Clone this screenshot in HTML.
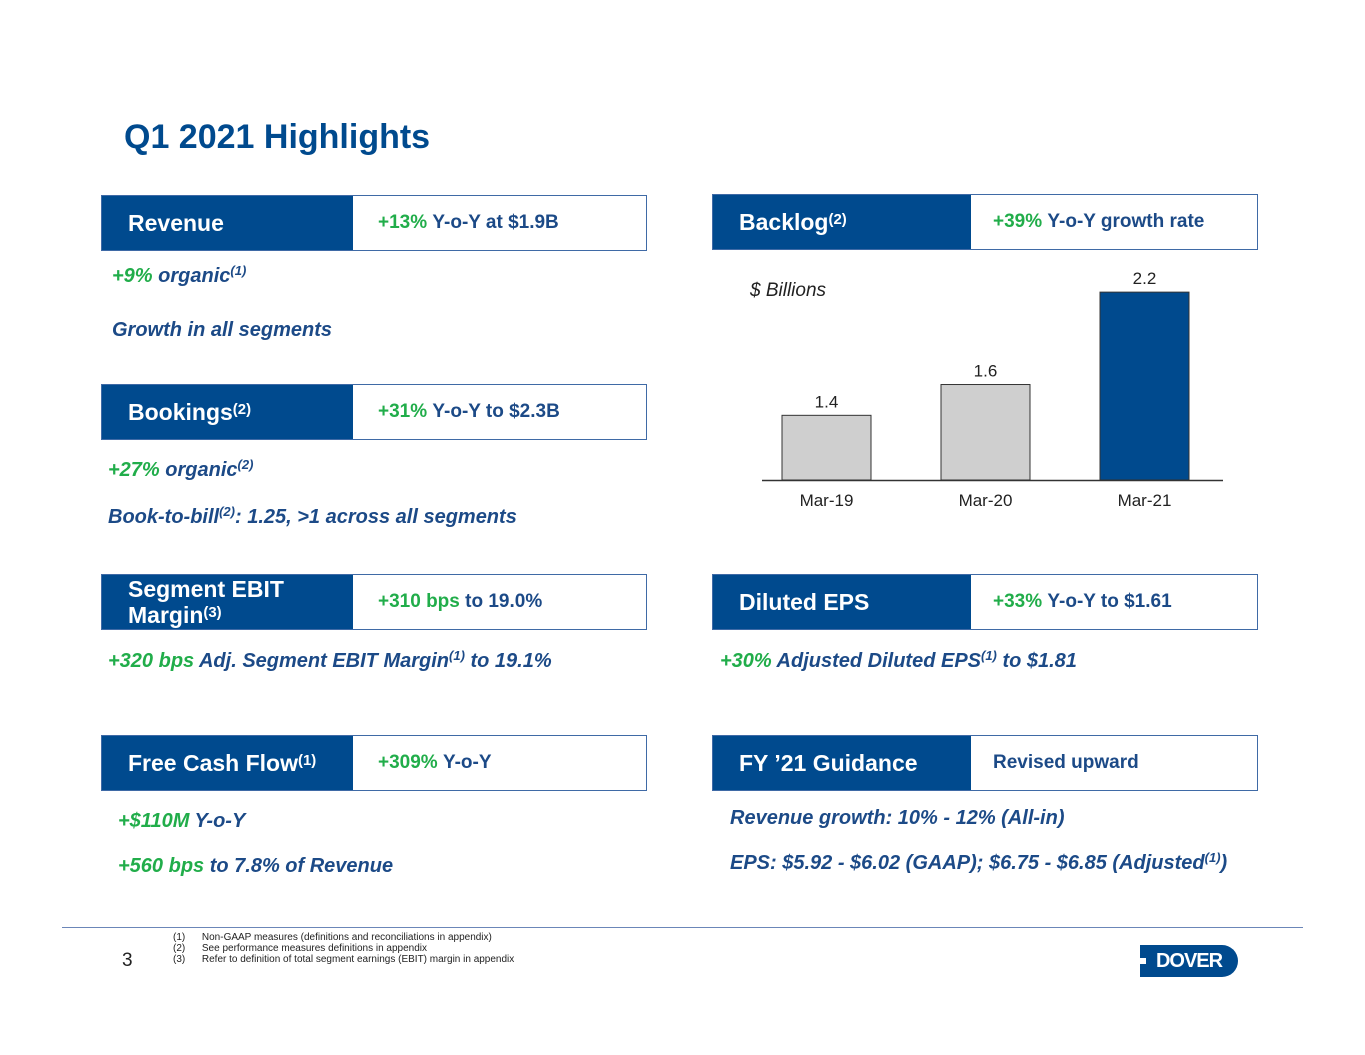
<!DOCTYPE html>
<html><head><meta charset="utf-8"><style>
body{margin:0;width:1365px;height:1055px;background:#fff;position:relative;font-family:"Liberation Sans",Arial,sans-serif;overflow:hidden}
.a{position:absolute}
.hdr{position:absolute;height:56px;border:1px solid #3f6aa6;box-sizing:border-box;background:#fff}
.hdr .l{position:absolute;left:0;top:0;bottom:0;width:251px;background:#004a8e;color:#fff;font-weight:bold;font-size:23px;display:flex;align-items:center;padding-left:26px;box-sizing:border-box;line-height:26px}
.hdr .r{position:absolute;left:276px;top:0;bottom:0;display:flex;align-items:center;font-weight:bold;font-size:19px;color:#1c4a87}
.g{color:#21ad4a}
.t{position:absolute;font-weight:bold;font-style:italic;font-size:20px;color:#1c4a87;white-space:nowrap}
sup{font-size:0.65em;vertical-align:top;position:relative;top:-2px}
</style></head><body>
<div class="a" style="left:124px;top:118px;font-size:34px;font-weight:bold;color:#004a8e">Q1 2021 Highlights</div>

<div class="hdr" style="left:101px;top:195px;width:546px"><div class="l">Revenue</div><div class="r"><span class="g">+13%</span>&nbsp;Y-o-Y at $1.9B</div></div>
<div class="t" style="left:112px;top:265px"><span class="g">+9%</span> organic<sup>(1)</sup></div>
<div class="t" style="left:112px;top:319px">Growth in all segments</div>

<div class="hdr" style="left:101px;top:384px;width:546px"><div class="l">Bookings<sup>(2)</sup></div><div class="r"><span class="g">+31%</span>&nbsp;Y-o-Y to $2.3B</div></div>
<div class="t" style="left:108px;top:459px"><span class="g">+27%</span> organic<sup>(2)</sup></div>
<div class="t" style="left:108px;top:506px">Book-to-bill<sup>(2)</sup>: 1.25, &gt;1 across all segments</div>

<div class="hdr" style="left:101px;top:574px;width:546px"><div class="l"><div>Segment EBIT<br>Margin<sup>(3)</sup></div></div><div class="r"><span class="g">+310 bps</span>&nbsp;to 19.0%</div></div>
<div class="t" style="left:108px;top:650px"><span class="g">+320 bps</span> Adj. Segment EBIT Margin<sup>(1)</sup> to 19.1%</div>

<div class="hdr" style="left:101px;top:735px;width:546px"><div class="l">Free Cash Flow<sup>(1)</sup></div><div class="r"><span class="g">+309%</span>&nbsp;Y-o-Y</div></div>
<div class="t" style="left:118px;top:810px"><span class="g">+$110M</span> Y-o-Y</div>
<div class="t" style="left:118px;top:855px"><span class="g">+560 bps</span> to 7.8% of Revenue</div>

<div class="hdr" style="left:712px;top:194px;width:546px"><div class="l" style="width:258px">Backlog<sup>(2)</sup></div><div class="r" style="left:280px"><span class="g">+39%</span>&nbsp;Y-o-Y growth rate</div></div>

<svg class="a" style="left:0;top:0" width="1365" height="1055">
<text x="750" y="296" font-size="19" font-style="italic" fill="#222" font-family="Liberation Sans,sans-serif">$ Billions</text>
<g id="bars"></g>
<line x1="762" x2="1223" y1="480.5" y2="480.5" stroke="#333" stroke-width="1.5"/>
</svg>
<script>
const categories=["Mar-19","Mar-20","Mar-21"];
const values=[1.4,1.6,2.2];
const labels=["1.4","1.6","2.2"];
const fills=["#cfcfcf","#cfcfcf","#004a8e"];
const baseY=480,yMin=0.98,pxPer=154;
function yScale(v){return baseY-(v-yMin)*pxPer;}
function xScale(i){return 782+i*159;}
const g=document.getElementById('bars');const ns="http://www.w3.org/2000/svg";
categories.forEach((c,i)=>{
 const x=xScale(i),y=yScale(values[i]);
 const r=document.createElementNS(ns,'rect');
 r.setAttribute('x',x);r.setAttribute('y',y);r.setAttribute('width',89);r.setAttribute('height',baseY-y);
 r.setAttribute('fill',fills[i]);r.setAttribute('stroke','#333');
 
 
 g.appendChild(r);
 const t=document.createElementNS(ns,'text');
 t.setAttribute('x',x+44.5);t.setAttribute('y',y-8);t.setAttribute('text-anchor','middle');t.setAttribute('font-size','17');t.setAttribute('fill','#222');t.setAttribute('font-family','Liberation Sans,sans-serif');
 t.textContent=labels[i];
 
 
 g.appendChild(t);
 const l=document.createElementNS(ns,'text');
 l.setAttribute('x',x+44.5);l.setAttribute('y',506);l.setAttribute('text-anchor','middle');l.setAttribute('font-size','17');l.setAttribute('fill','#222');l.setAttribute('font-family','Liberation Sans,sans-serif');
 l.textContent=c;
 
 
 g.appendChild(l);
});
</script>

<div class="hdr" style="left:712px;top:574px;width:546px"><div class="l" style="width:258px">Diluted EPS</div><div class="r" style="left:280px"><span class="g">+33%</span>&nbsp;Y-o-Y to $1.61</div></div>
<div class="t" style="left:720px;top:650px"><span class="g">+30%</span> Adjusted Diluted EPS<sup>(1)</sup> to $1.81</div>

<div class="hdr" style="left:712px;top:735px;width:546px"><div class="l" style="width:258px">FY ’21 Guidance</div><div class="r" style="left:280px">Revised upward</div></div>
<div class="t" style="left:730px;top:807px">Revenue growth: 10% - 12% (All-in)</div>
<div class="t" style="left:730px;top:852px">EPS: $5.92 - $6.02 (GAAP); $6.75 - $6.85 (Adjusted<sup>(1)</sup>)</div>

<div class="a" style="left:62px;top:927px;width:1241px;height:1px;background:#6b86b8"></div>
<div class="a" style="left:122px;top:950px;font-size:19px;color:#222">3</div>
<div class="a" style="left:173px;top:932px;font-size:10px;line-height:11px;color:#222">
<div>(1)&nbsp;&nbsp;&nbsp;&nbsp;&nbsp;&nbsp;Non-GAAP measures (definitions and reconciliations in appendix)</div>
<div>(2)&nbsp;&nbsp;&nbsp;&nbsp;&nbsp;&nbsp;See performance measures definitions in appendix</div>
<div>(3)&nbsp;&nbsp;&nbsp;&nbsp;&nbsp;&nbsp;Refer to definition of total segment earnings (EBIT) margin in appendix</div></div>
<div class="a" style="left:1140px;top:945px;width:98px;height:32px;background:#004a8e;border-radius:0 16px 16px 0;color:#fff;font-weight:bold;font-size:20px;line-height:32px;text-align:center;letter-spacing:-1px">DOVER</div>
<div class="a" style="left:1140px;top:958px;width:6px;height:6px;background:#fff"></div>
</body></html>
